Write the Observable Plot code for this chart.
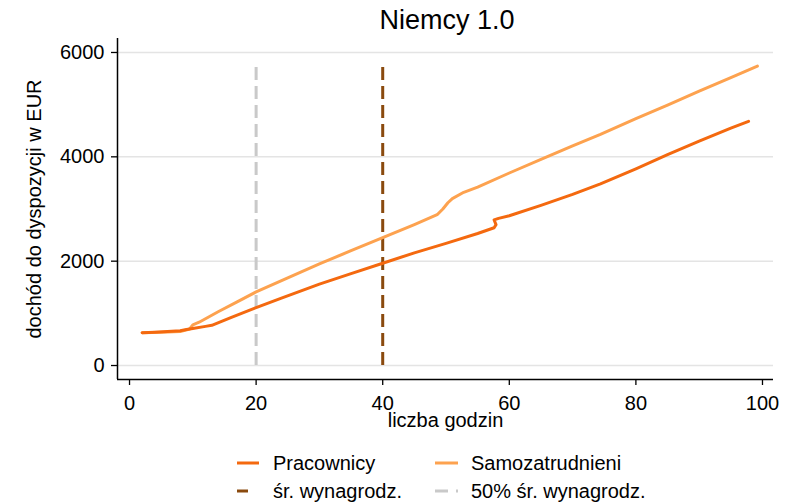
<!DOCTYPE html>
<html>
<head>
<meta charset="utf-8">
<script src="https://cdn.jsdelivr.net/npm/d3@7"></script>
<script src="https://cdn.jsdelivr.net/npm/@observablehq/plot@0.6"></script>
<style>
  html, body { margin: 0; padding: 0; background: #fff; }
  body { width: 797px; height: 502px; position: relative; overflow: hidden; font-family: "Liberation Sans", Arial, sans-serif; color: #000; }
  #title { position: absolute; left: 0; width: 894px; top: 4px; text-align: center; font-size: 27px; line-height: 32px; }
  #chart { position: absolute; left: 0; top: 36px; }
  .leg { position: absolute; font-size: 20px; line-height: 24px; white-space: nowrap; }
  .sw { position: absolute; }
</style>
</head>
<body>
<div id="title">Niemcy 1.0</div>
<div id="chart"></div>
<div id="legend"></div>
<script>
// ---- data ----
const pracHours  = [2, 4, 6, 8, 9, 10, 12, 13, 16, 20, 24, 30, 35, 40, 45, 50, 55, 57.6, 57.9, 57.6, 58.3, 60, 65, 70, 74.4, 80, 85, 90, 95, 97.8];
const pracIncome = [630, 640, 650, 665, 690, 710, 750, 770, 920, 1110, 1290, 1560, 1760, 1960, 2160, 2340, 2530, 2640, 2700, 2790, 2820, 2870, 3070, 3280, 3480, 3770, 4040, 4300, 4550, 4680];
const samoHours  = [2, 5, 8, 9.5, 10, 11, 14, 17, 20, 25, 30, 35, 40, 45, 48.6, 49.5, 50.3, 51, 52.8, 55, 60, 65, 70, 74.4, 80, 85, 90, 95, 99.2];
const samoIncome = [630, 640, 650, 700, 780, 830, 1030, 1220, 1410, 1680, 1950, 2200, 2450, 2700, 2890, 3000, 3120, 3200, 3320, 3420, 3690, 3950, 4210, 4430, 4730, 4990, 5260, 5520, 5740];
const avgWageHours = [40];
const halfWageHours = [20];
const refLineTop = 5800;
const xTicks = [0, 20, 40, 60, 80, 100];
const yTicks = [0, 2000, 4000, 6000];
const seriesNames = ["Pracownicy", "Samozatrudnieni"];
const refNames = ["śr. wynagrodz.", "50% śr. wynagrodz."];
const titleText = "Niemcy 1.0";
const xLabel = "liczba godzin";
const yLabel = "dochód do dyspozycji w EUR";

const colPrac = "#f4690f";
const colSamo = "#fda24f";
const colAvg = "#8a4a0e";
const colHalf = "#c9c9c9";

const prac = pracHours.map((h, i) => ({h, v: pracIncome[i]}));
const samo = samoHours.map((h, i) => ({h, v: samoIncome[i]}));

const xDom = [-1.9, 101.74];
const yDom = [-268, 6268];

const chart = Plot.plot({
  width: 797,
  height: 410,
  marginLeft: 117,
  marginRight: 24,
  marginTop: 2,
  marginBottom: 67,
  x: {domain: xDom},
  y: {domain: yDom},
  style: {fontFamily: "'Liberation Sans', Arial, sans-serif", fontSize: "20px", color: "#000", background: "#fff", overflow: "visible"},
  marks: [
    Plot.gridY(yTicks, {stroke: "#e4e4e4", strokeOpacity: 1, strokeWidth: 1.5}),
    Plot.ruleX(halfWageHours, {y1: 0, y2: refLineTop, stroke: colHalf, strokeWidth: 3, strokeDasharray: "13,6"}),
    Plot.ruleX(avgWageHours, {y1: 0, y2: refLineTop, stroke: colAvg, strokeWidth: 3, strokeDasharray: "13,6"}),
    Plot.line(samo, {x: "h", y: "v", stroke: colSamo, strokeWidth: 3}),
    Plot.line(prac, {x: "h", y: "v", stroke: colPrac, strokeWidth: 3}),
    Plot.axisY(yTicks, {tickSize: 6, tickPadding: 7, tickFormat: d => String(d), label: null, stroke: "#000", strokeWidth: 1.3}),
    Plot.axisX(xTicks, {tickSize: 6, tickPadding: 10, tickFormat: d => String(d), label: null, stroke: "#000", strokeWidth: 1.3}),
    Plot.ruleX([xDom[0]], {stroke: "#000", strokeWidth: 1.5}),
    Plot.ruleY([yDom[0]], {stroke: "#000", strokeWidth: 1.5}),
    Plot.text([xLabel], {frameAnchor: "bottom", lineAnchor: "top", dy: 33, text: d => d, fontSize: 20}),
    Plot.text([yLabel], {frameAnchor: "left", textAnchor: "middle", lineAnchor: "middle", rotate: -90, dx: -83, text: d => d, fontSize: 20})
  ]
});
document.getElementById("chart").appendChild(chart);
document.getElementById("title").textContent = titleText;

// ---- legend ----
const legend = document.getElementById("legend");
function swatch(x, y, w, color, dash) {
  const ns = "http://www.w3.org/2000/svg";
  const s = document.createElementNS(ns, "svg");
  s.setAttribute("width", w);
  s.setAttribute("height", 6);
  s.setAttribute("class", "sw");
  s.style.left = x + "px";
  s.style.top = (y - 3) + "px";
  const l = document.createElementNS(ns, "line");
  l.setAttribute("x1", 0); l.setAttribute("x2", w);
  l.setAttribute("y1", 3); l.setAttribute("y2", 3);
  l.setAttribute("stroke", color);
  l.setAttribute("stroke-width", 3);
  if (dash) l.setAttribute("stroke-dasharray", dash);
  s.appendChild(l);
  legend.appendChild(s);
}
function label(x, y, t) {
  const d = document.createElement("div");
  d.className = "leg";
  d.style.left = x + "px";
  d.style.top = (y - 12) + "px";
  d.textContent = t;
  legend.appendChild(d);
}
swatch(237, 463, 22, colPrac);
label(273, 463, seriesNames[0]);
swatch(435, 463, 23, colSamo);
label(471, 463, seriesNames[1]);
swatch(237, 491, 22, colAvg, "11,11");
label(273, 491, refNames[0]);
swatch(435, 491, 23, colHalf, "13,8");
label(471, 491, refNames[1]);
</script>
</body>
</html>
